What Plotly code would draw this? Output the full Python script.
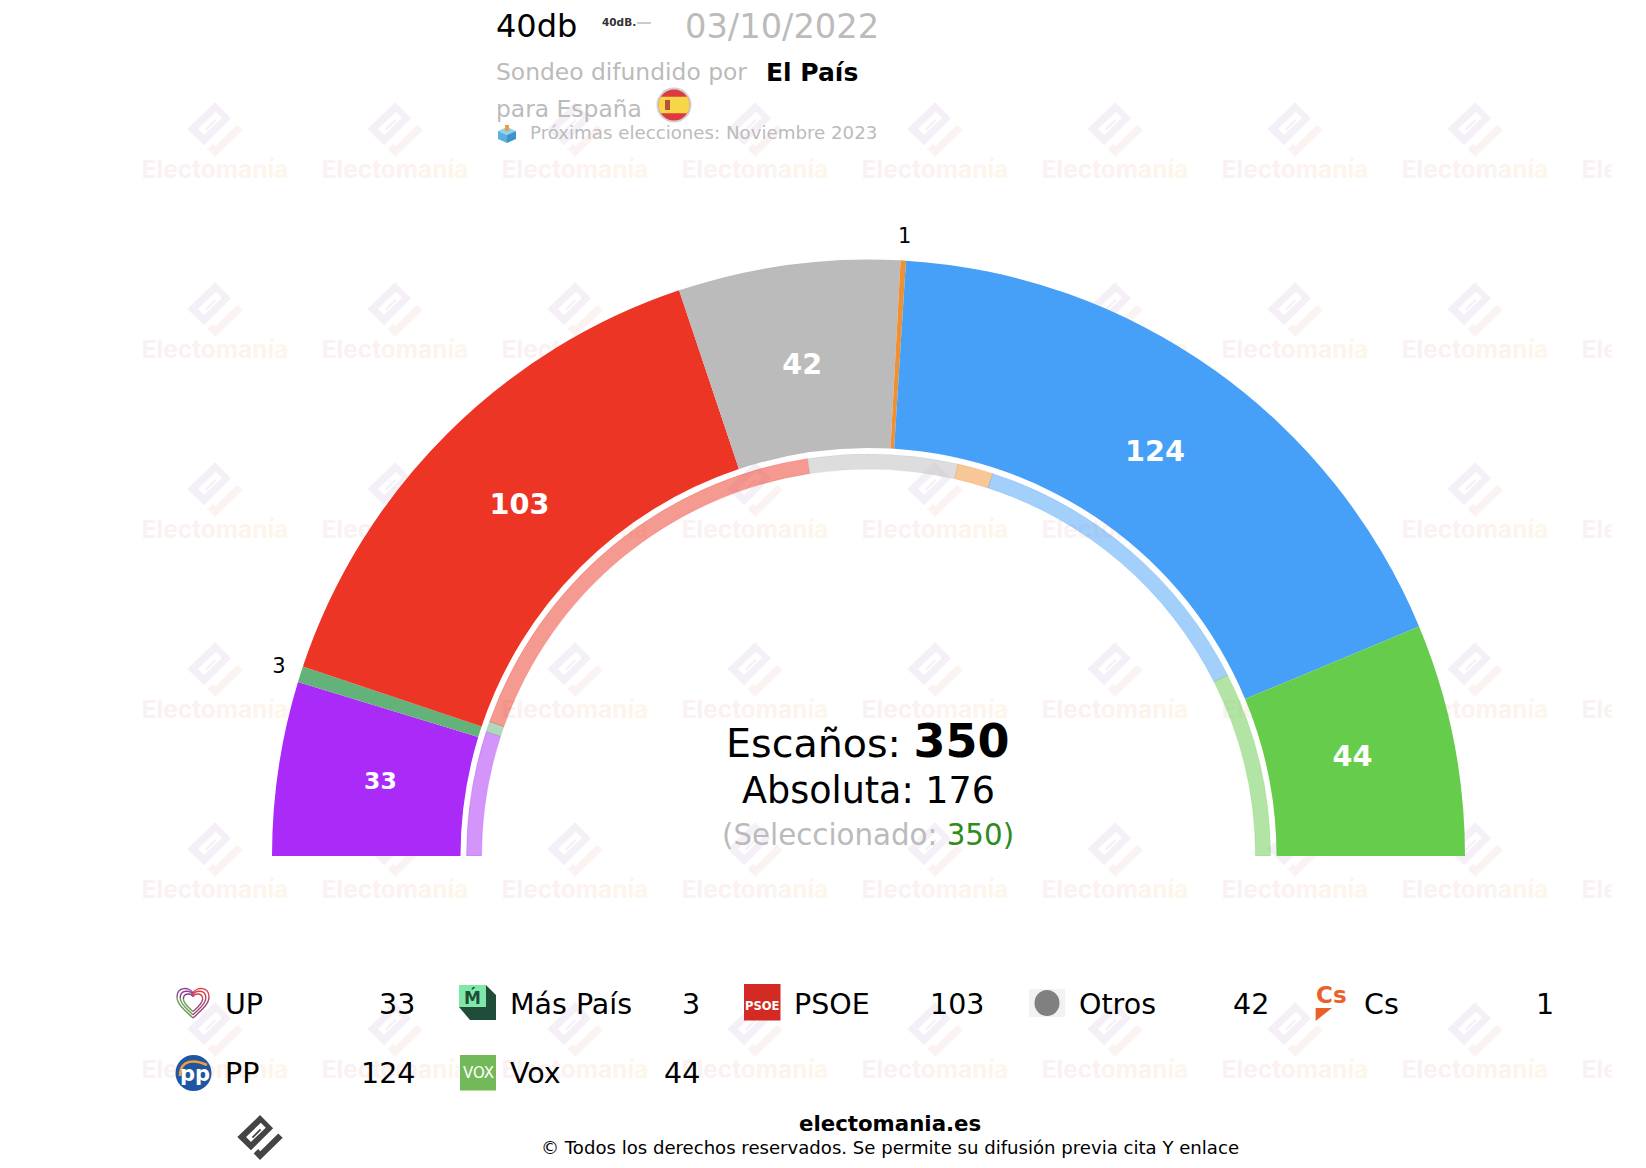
import numpy as np
import plotly.graph_objects as go

W = 1646
H = 1168

# sondeo y resultado anterior (anillo interior)
parties = ["UP", "Más País", "PSOE", "Otros", "Cs", "PP", "Vox"]
seats = [33, 3, 103, 42, 1, 124, 44]
prev_seats = [35, 3, 120, 42, 10, 88, 52]
colors = ["#AA2BF8", "#62B27A", "#EC3524", "#BBBBBB", "#F09030", "#47A0F8", "#66CC4C"]
total_seats = 350
majority = 176

wm_columns = [215, 395, 575, 755, 935, 1115, 1295, 1475, 1655]
wm_rows = [170, 350, 530, 710, 890, 1070]
wm_letters = list("Electomanía")
wm_colors = ["#f9f1f3", "#f9f1f2", "#faf1f1", "#fbf1f0", "#fcf1f0", "#fcf2ef", "#fcf2ee",
             "#fcf3ed", "#fdf4ec", "#fdf5eb", "#fdf6ea"]

CX = 868.5
CY = 856
R_OUT = 596.5
R_IN = 408
RING_OUT = 402
RING_IN = 387
R_MAX = 640
R_LABEL = 493.5
R_OUTSIDE = 619
FONT = "DejaVu Sans"


def px(x):
    return x / W


def py(y):
    return 1 - y / H


def polygon(points):
    return "M " + " L ".join(f"{px(x):.5f} {py(y):.5f}" for x, y in points) + " Z"


def angles(values):
    edges = np.cumsum([0] + values) / total_seats * 180
    return (edges[:-1] + edges[1:]) / 2, np.diff(edges)


def rgba(hex_color, alpha):
    r, g, b = int(hex_color[1:3], 16), int(hex_color[3:5], 16), int(hex_color[5:7], 16)
    return f"rgba({r},{g},{b},{alpha})"


shapes = []
annotations = []


def note(x, y, text, size, color="#000000", anchor="left", bold=False, family=FONT):
    annotations.append(dict(
        x=px(x), y=py(y), xref="paper", yref="paper", text=f"<b>{text}</b>" if bold else text,
        showarrow=False, xanchor=anchor, yanchor="middle", borderpad=0,
        font=dict(family=family, size=size, color=color),
    ))


def poly_shape(points, fill, layer="above"):
    shapes.append(dict(type="path", xref="paper", yref="paper", path=polygon(points),
                       fillcolor=fill, line=dict(width=0), layer=layer))


def rect(x0, y0, x1, y1, fill):
    shapes.append(dict(type="rect", xref="paper", yref="paper", x0=px(x0), x1=px(x1), y0=py(y0), y1=py(y1),
                       fillcolor=fill, line=dict(width=0)))


def circle(cx, cy, rx, ry, fill):
    shapes.append(dict(type="circle", xref="paper", yref="paper", x0=px(cx - rx), x1=px(cx + rx),
                       y0=py(cy - ry), y1=py(cy + ry), fillcolor=fill, line=dict(width=0)))


# logo de electomania, relativo a su centro
LOGO_BODY = [(0, -26.7), (16, -10.7), (-11, 16.3), (-27.7, 0)]
LOGO_HOLE = [(-17, 0), (1, -17.3), (7, -11.3), (-11, 6)]
LOGO_BAR = [(-10, 0), (0, -10), (1.5, -8.5), (-8.5, 1.5)]
LOGO_TAIL = [(22.3, -4.3), (27.7, 1), (0, 28), (-7.7, 20), (-2.3, 14.7), (0.3, 17.3)]


def logo(cx, cy, scale, body_color, tail_color, layer):
    move = lambda pts: [(cx + a * scale, cy + b * scale) for a, b in pts]
    path = " ".join(polygon(move(p)) for p in (LOGO_BODY, LOGO_HOLE, LOGO_BAR))
    shapes.append(dict(type="path", xref="paper", yref="paper", path=path, fillcolor=body_color,
                       fillrule="evenodd", line=dict(width=0), layer=layer))
    poly_shape(move(LOGO_TAIL), tail_color, layer)


for col in wm_columns[:-1]:
    for row in wm_rows:
        logo(col, row - 41, 1, "#f5f0f7", "#fbf3f1", "below")

wm_text = "".join(f'<span style="color:{c}">{l}</span>' for l, c in zip(wm_letters, wm_colors))
wm_x = [c for c in wm_columns for r in wm_rows]
wm_y = [r + 2 for c in wm_columns for r in wm_rows]

fig = go.Figure()
fig.add_trace(go.Scatter(
    x=wm_x, y=wm_y, mode="text", text=[wm_text] * len(wm_x), hoverinfo="skip",
    textposition="middle center", textfont=dict(family="Inter", size=24.4, weight="bold", color="#fbf1f0"),
))

theta, width = angles(seats)
fig.add_trace(go.Barpolar(
    theta=theta, width=width, r=[R_OUT - R_IN] * len(seats), base=R_IN, text=parties,
    marker=dict(color=colors, line=dict(width=0)), hoverinfo="text",
))
prev_theta, prev_width = angles(prev_seats)
fig.add_trace(go.Barpolar(
    theta=prev_theta, width=prev_width, r=[RING_OUT - RING_IN] * len(seats), base=RING_IN, text=parties,
    marker=dict(color=[rgba(c, 0.5) for c in colors], line=dict(width=1, color=[rgba(c, 0.25) for c in colors])),
    hoverinfo="text",
))

big = [i for i, s in enumerate(seats) if s >= 10]
small = [i for i, s in enumerate(seats) if s < 10]
fig.add_trace(go.Scatterpolar(
    theta=theta[big], r=[R_LABEL] * len(big), mode="text", text=[str(seats[i]) for i in big],
    hoverinfo="skip", cliponaxis=False,
    textfont=dict(family=FONT, color="#ffffff", weight="bold", size=[23.5 if seats[i] == 33 else 28.7 for i in big]),
))
fig.add_trace(go.Scatterpolar(
    theta=theta[small], r=[R_OUTSIDE] * len(small), mode="text", text=[str(seats[i]) for i in small],
    hoverinfo="skip", cliponaxis=False, textfont=dict(family=FONT, color="#000000", size=21),
))

# cabecera
note(495, 26, "40db", 32)
note(601, 22, "40dB.", 10.5, "#333333", bold=True)
shapes.append(dict(type="line", xref="paper", yref="paper", x0=px(637), x1=px(651), y0=py(23), y1=py(23),
                   line=dict(color="#cccccc", width=2)))
note(684, 26, "03/10/2022", 33.7, "#bbbbbb")
note(495, 72, "Sondeo difundido por", 23.4, "#bbbbbb")
note(765, 72, "El País", 25, "#000000", bold=True)
note(495, 109, "para España", 23.4, "#bbbbbb")
note(529, 133, "Próximas elecciones: Noviembre 2023", 18.2, "#bbbbbb")

# bandera
circle(674, 105, 17.5, 17.5, "#d0d0d0")
circle(674, 105, 15.5, 15.5, "#DD3A40")
band = [(674 + 15.5 * np.cos(a), 105 + 15.5 * np.sin(a)) for a in np.radians(np.linspace(-32, 32, 9))]
band += [(674 - 15.5 * np.cos(a), 105 + 15.5 * np.sin(a)) for a in np.radians(np.linspace(32, -32, 9))]
poly_shape(band, "#F7D648")
rect(665, 100, 670, 110, "#B5533C")

# urna
poly_shape([(507, 127), (516, 131), (507, 135), (498, 131)], "#8FD0EE")
poly_shape([(498, 131), (507, 135), (507, 143), (498, 139)], "#5BB0DC")
poly_shape([(507, 135), (516, 131), (516, 139), (507, 143)], "#3E94C8")
rect(505, 125, 509, 131, "#F29A3C")

# centro
note(868, 741, 'Escaños: <span style="font-size:46px;font-weight:bold">%d</span>' % total_seats, 39.6, anchor="center")
note(868, 790, f"Absoluta: {majority}", 36.5, anchor="center")
note(868, 835, f'(Seleccionado: <span style="color:#2f8a20">{total_seats})</span>', 29.3, "#bbbbbb", anchor="center")

# leyenda
COL_STEP = 284.7
ROW_Y = [1004, 1073]
for i, (party, value) in enumerate(zip(parties, seats)):
    col = i % 5
    y = ROW_Y[i // 5]
    note(224 + COL_STEP * col, y, party, 28.5)
    note(416 + COL_STEP * col, y, str(value), 28.5, anchor="right")


def heart(cx, cy, s):
    p = lambda a, b: f"{px(cx + a * s):.5f} {py(cy + b * s):.5f}"
    parts = [
        (f"M {p(0, -9)} C {p(-3, -15)} {p(-16, -16)} {p(-16, -5)}", "#8A3F8F"),
        (f"M {p(-16, -5)} C {p(-16, 3)} {p(-6, 10)} {p(0, 16)}", "#6E9A55"),
        (f"M {p(0, -9)} C {p(3, -15)} {p(16, -16)} {p(16, -5)}", "#D8404A"),
        (f"M {p(16, -5)} C {p(16, 3)} {p(6, 10)} {p(0, 16)}", "#A04A78"),
    ]
    for path, color in parts:
        shapes.append(dict(type="path", xref="paper", yref="paper", path=path, line=dict(color=color, width=1.4)))


for s in (1, 0.8, 0.6):
    heart(193, 1002, s)

rect(459, 985, 486, 1007, "#7FE8A8")
poly_shape([(486, 985), (496, 995), (496, 1020), (470, 1020), (459, 1007), (486, 1007)], "#1F4D3A")
note(472.5, 997, "Ḿ", 17, "#1F4D3A", anchor="center", bold=True)

rect(744, 984, 780.5, 1020.5, "#D32B23")
note(762, 1006, "PSOE", 11.5, "#ffffff", anchor="center", bold=True)

rect(1029, 989, 1065, 1017, "#f2f2f2")
circle(1047, 1003, 12.5, 13, "#808080")

note(1331, 995, "Cs", 23, "#EC5F2A", anchor="center", bold=True)
poly_shape([(1315.6, 1008), (1332, 1008), (1315.6, 1021)], "#EC5F2A")

circle(193.5, 1073, 18, 18, "#1F56A4")
shapes.append(dict(type="path", xref="paper", yref="paper", line=dict(color="#F0A030", width=2.5),
                   path=f"M {px(180):.5f} {py(1076):.5f} C {px(180):.5f} {py(1058):.5f} {px(196):.5f} {py(1060):.5f} {px(207):.5f} {py(1065):.5f}"))
note(194.5, 1074, "pp", 21, "#ffffff", anchor="center", bold=True)

rect(460, 1055, 496, 1090.5, "#74B959")
note(478, 1073, "VOX", 15, "#ffffff", anchor="center")

# pie
logo(260, 1137, 0.82, "#444444", "#444444", "above")
note(890, 1123, "electomania.es", 21.3, "#000000", anchor="center", bold=True)
note(890, 1147, "© Todos los derechos reservados. Se permite su difusión previa cita Y enlace", 18.1, "#000000", anchor="center")

fig.update_layout(
    width=W,
    height=H,
    margin=dict(l=0, r=0, t=0, b=0),
    paper_bgcolor="#ffffff",
    plot_bgcolor="rgba(0,0,0,0)",
    showlegend=False,
    xaxis=dict(visible=False, domain=[0, 1612 / W], range=[0, 1612], fixedrange=True),
    yaxis=dict(visible=False, domain=[0, 1], range=[H, 0], fixedrange=True),
    polar=dict(
        domain=dict(x=[px(CX - R_MAX), px(CX + R_MAX)], y=[py(CY), py(CY - R_MAX)]),
        sector=[0, 180],
        bgcolor="rgba(0,0,0,0)",
        barmode="overlay",
        radialaxis=dict(visible=False, range=[0, R_MAX]),
        angularaxis=dict(visible=False, direction="clockwise", rotation=180, thetaunit="degrees"),
    ),
    shapes=shapes,
    annotations=annotations,
)

fig.write_html("out.html", config={"displayModeBar": False},
               post_script="document.body.style.margin='0';document.body.style.overflow='hidden';")
